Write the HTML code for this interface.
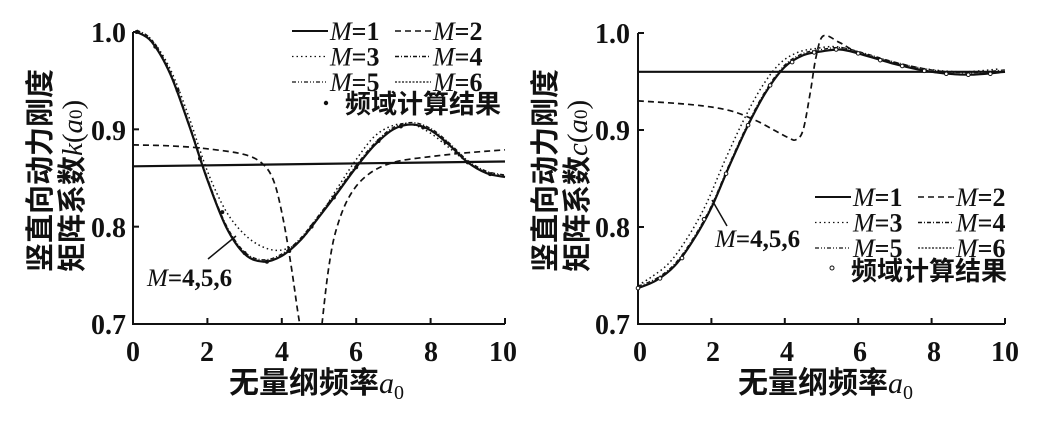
<!DOCTYPE html>
<html><head><meta charset="utf-8"><style>
html,body{margin:0;padding:0;background:#fff;}
svg text{font-family:"Liberation Serif","Noto Serif CJK SC",serif;font-weight:bold;fill:#111;}
.cj{font-family:"Liberation Serif","Noto Sans CJK SC",sans-serif;font-weight:bold;}
</style></head><body>
<svg id="s" width="1049" height="416" viewBox="0 0 1049 416" xmlns="http://www.w3.org/2000/svg">
<g stroke="#111" stroke-width="2" fill="none">
<path d="M133,32 V324 H505"/>
<path d="M638,33 V324 H1005"/>
</g>
<g id="ticks" stroke="#111" stroke-width="2"></g>
<g id="curves" fill="none" stroke="#111"></g>
<g font-size="28">
<text x="133" y="361" text-anchor="middle">0</text><text x="207" y="361" text-anchor="middle">2</text><text x="282" y="361" text-anchor="middle">4</text><text x="356" y="361" text-anchor="middle">6</text><text x="431" y="361" text-anchor="middle">8</text><text x="503" y="361" text-anchor="middle">10</text>
<text x="126" y="42" text-anchor="end">1.0</text><text x="126" y="140" text-anchor="end">0.9</text><text x="126" y="237" text-anchor="end">0.8</text><text x="126" y="334" text-anchor="end">0.7</text>
<text x="640" y="361" text-anchor="middle">0</text><text x="713" y="361" text-anchor="middle">2</text><text x="787" y="361" text-anchor="middle">4</text><text x="860" y="361" text-anchor="middle">6</text><text x="934" y="361" text-anchor="middle">8</text><text x="1005" y="361" text-anchor="middle">10</text>
<text x="630" y="43" text-anchor="end">1.0</text><text x="630" y="140" text-anchor="end">0.9</text><text x="630" y="237" text-anchor="end">0.8</text><text x="630" y="334" text-anchor="end">0.7</text>
</g>
<g font-size="30">
<text x="229" y="393" class="cj">无量纲频率<tspan font-family="Liberation Serif" font-style="italic" font-weight="normal">a</tspan><tspan font-size="20" dy="6" font-weight="normal">0</tspan></text>
<text x="738" y="393" class="cj">无量纲频率<tspan font-family="Liberation Serif" font-style="italic" font-weight="normal">a</tspan><tspan font-size="20" dy="6" font-weight="normal">0</tspan></text>
</g>
<g font-size="29">
<text class="cj" transform="translate(50,272) rotate(-90)">竖直向动力刚度</text>
<text class="cj" transform="translate(82,272) rotate(-90)">矩阵系数<tspan font-family="Liberation Serif" font-style="italic" font-weight="normal">k</tspan><tspan font-family="Liberation Serif" font-weight="normal">(</tspan><tspan font-family="Liberation Serif" font-style="italic" font-weight="normal">a</tspan><tspan font-family="Liberation Serif" font-size="19" font-weight="normal">0</tspan><tspan font-family="Liberation Serif" font-weight="normal">)</tspan></text>
<text class="cj" transform="translate(555,272) rotate(-90)">竖直向动力刚度</text>
<text class="cj" transform="translate(587,272) rotate(-90)">矩阵系数<tspan font-family="Liberation Serif" font-style="italic" font-weight="normal">c</tspan><tspan font-family="Liberation Serif" font-weight="normal">(</tspan><tspan font-family="Liberation Serif" font-style="italic" font-weight="normal">a</tspan><tspan font-family="Liberation Serif" font-size="19" font-weight="normal">0</tspan><tspan font-family="Liberation Serif" font-weight="normal">)</tspan></text>
</g>
<g id="leg" font-size="26"></g>
<g font-size="25">
<line x1="208" y1="259" x2="236" y2="236" stroke="#111" stroke-width="1.5"/>
<text x="147" y="286"><tspan font-style="italic" font-weight="normal">M</tspan>=4,5,6</text>
<line x1="712" y1="200" x2="727" y2="226" stroke="#111" stroke-width="1.5"/>
<text x="715" y="247"><tspan font-style="italic" font-weight="normal">M</tspan>=4,5,6</text>
</g>
</svg>
<script>
var NS="http://www.w3.org/2000/svg";
function el(t,a,p){var e=document.createElementNS(NS,t);for(var k in a)e.setAttribute(k,a[k]);p.appendChild(e);return e;}
var P=[{x0:133,x1:505,y1:32,y0:324},{x0:638,x1:1005,y1:33,y0:324}];
function X(p,a){return p.x0+(p.x1-p.x0)*a/10;}
function Y(p,v){return p.y0+(p.y1-p.y0)*(v-0.7)/0.3;}
var tk=document.getElementById('ticks');
P.forEach(function(p){for(var i=1;i<=5;i++){var x=X(p,2*i);el('line',{x1:x,x2:x,y1:p.y0,y2:p.y0-6},tk);}
for(var j=0;j<3;j++){var y=Y(p,0.8+0.1*j);el('line',{x1:p.x0,x2:p.x0+6,y1:y,y2:y},tk);}});
function spline(p,pts){var q=pts.map(function(d){return [X(p,d[0]),Y(p,d[1])];});
var s="M"+q[0][0].toFixed(1)+","+q[0][1].toFixed(1);
for(var i=0;i<q.length-1;i++){var a=q[i-1]||q[i],b=q[i],c=q[i+1],d=q[i+2]||c;
s+=" C"+(b[0]+(c[0]-a[0])/6).toFixed(1)+","+(b[1]+(c[1]-a[1])/6).toFixed(1)+" "+(c[0]-(d[0]-b[0])/6).toFixed(1)+","+(c[1]-(d[1]-b[1])/6).toFixed(1)+" "+c[0].toFixed(1)+","+c[1].toFixed(1);}
return s;}
var cv=document.getElementById('curves');
function draw(p,pts,w,da){var a={d:spline(p,pts),"stroke-width":w};if(da)a["stroke-dasharray"]=da;el('path',a,cv);}
var L=P[0],R=P[1];
var k456=[[0.1,1.0],[0.5,0.99],[1,0.957],[1.5,0.905],[2,0.848],[2.5,0.8],[3,0.772],[3.5,0.764],[4,0.77],[4.5,0.786],[5,0.81],[5.5,0.835],[6,0.861],[6.5,0.884],[7,0.9],[7.5,0.905],[8,0.899],[8.5,0.884],[9,0.866],[9.5,0.855],[10,0.851]];
var k3=[[0.1,1.0],[0.5,0.992],[1,0.962],[1.5,0.913],[2,0.857],[2.5,0.816],[3,0.792],[3.5,0.779],[4,0.776],[4.5,0.786],[5,0.81],[5.5,0.84],[6,0.869],[6.5,0.893],[7,0.904],[7.5,0.905],[8,0.896],[8.5,0.881],[9,0.866],[9.5,0.856],[10,0.852]];
draw(L,[[0,0.862],[10,0.867]],2.2);
draw(L,k456,2.2);
draw(L,k3,1.5,"1.5 3");
draw(L,k456.map(function(d){return [d[0],d[1]+0.002];}),1.3,"4 2 1 2");
draw(L,[[0,0.884],[1,0.883],[2,0.88],[3,0.874],[3.5,0.864],[3.8,0.845],[4.05,0.805],[4.25,0.76],[4.4,0.72],[4.48,0.7]],1.7,"6 4");
draw(L,[[5.08,0.7],[5.25,0.755],[5.45,0.795],[5.8,0.83],[6.3,0.853],[7,0.866],[8,0.872],[9,0.876],[10,0.879]],1.7,"6 4");
var c456=[[0,0.737],[0.5,0.745],[1,0.76],[1.5,0.786],[2,0.82],[2.5,0.864],[3,0.905],[3.5,0.94],[4,0.965],[4.5,0.977],[5,0.981],[5.5,0.983],[6,0.979],[7,0.968],[8,0.96],[9,0.957],[10,0.96]];
draw(R,[[0,0.96],[10,0.96]],2.2);
draw(R,c456,2.2);
draw(R,c456.map(function(d){return [Math.max(0,d[0]-0.15),d[1]+0.003];}),1.5,"1.5 3");
draw(R,c456.map(function(d){return [d[0],d[1]+0.002];}),1.3,"4 2 1 2");
draw(R,[[0,0.93],[1.5,0.926],[2.5,0.92],[3.2,0.91],[3.7,0.9],[4.1,0.892],[4.3,0.89],[4.5,0.9],[4.7,0.94],[4.85,0.975],[5.05,0.997],[5.5,0.99],[6,0.98],[7,0.969],[8,0.96],[9,0.957],[10,0.96]],1.7,"6 4");
[[0.1,1],[0.6,0.985],[1.2,0.94],[1.8,0.87],[2.4,0.815],[3,0.773],[3.6,0.764],[4.2,0.775],[4.8,0.8],[5.4,0.83],[6,0.861],[6.6,0.888],[7.2,0.903],[7.8,0.902],[8.4,0.887],[9,0.866],[9.6,0.854]].forEach(function(d){el('circle',{cx:X(L,d[0]),cy:Y(L,d[1]),r:2,fill:'#111',stroke:'none'},cv);});
[[0,0.737],[0.6,0.747],[1.2,0.768],[1.8,0.808],[2.4,0.855],[3,0.905],[3.6,0.946],[4.2,0.97],[4.8,0.98],[5.4,0.983],[6,0.979],[6.6,0.972],[7.2,0.966],[7.8,0.961],[8.4,0.958],[9,0.957],[9.6,0.958]].forEach(function(d){el('circle',{cx:X(R,d[0]),cy:Y(R,d[1]),r:1.8,fill:'#fff',stroke:'#111','stroke-width':1},cv);});
var lg=document.getElementById('leg');
function legend(bx,by){
var st=[["",2],["6 4",1.5],["1.5 3",1.3],["4 2 1 2",1.5],["4 2 1 2 1 2",1.3],["2 1.5",1.3]];
for(var i=0;i<6;i++){var c=i%2,r=Math.floor(i/2);var x=bx+c*103,y=by+r*25.5;
var a={x1:x,x2:x+36,y1:y,y2:y,stroke:'#111','stroke-width':st[i][1]};if(st[i][0])a['stroke-dasharray']=st[i][0];el('line',a,lg);
var t=el('text',{x:x+38,y:y+9},lg);t.innerHTML='<tspan font-style="italic" font-weight="normal">M</tspan>='+(i+1);}}
legend(292,31);
el('circle',{cx:326,cy:103,r:2.2,fill:'#111'},lg);
var t=el('text',{x:345,y:113,'class':'cj','font-size':'26'},lg);t.textContent='频域计算结果';
legend(815,197);
el('circle',{cx:832,cy:268,r:2,fill:'#fff',stroke:'#111'},lg);
t=el('text',{x:851,y:280,'class':'cj','font-size':'26'},lg);t.textContent='频域计算结果';
</script>
</body></html>
